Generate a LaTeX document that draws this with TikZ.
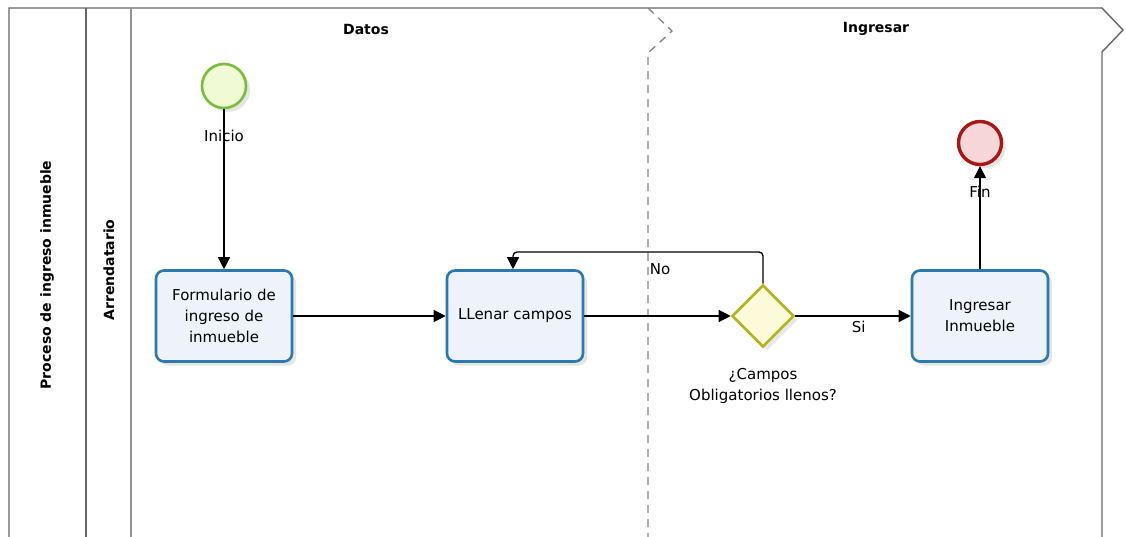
\documentclass[tikz,border=0pt]{standalone}
\usepackage{fontspec}
\setmainfont{DejaVu Sans}
\usetikzlibrary{shapes.geometric,shadows,arrows.meta}
\definecolor{taskborder}{HTML}{2C79AC}
\definecolor{taskfill}{HTML}{EEF2FB}
\definecolor{startborder}{HTML}{78BE3C}
\definecolor{startfill}{HTML}{F0FBD6}
\definecolor{endborder}{HTML}{A81818}
\definecolor{endfill}{HTML}{F6D6D6}
\definecolor{gwborder}{HTML}{B4B422}
\definecolor{gwfill}{HTML}{FBFBDA}
\definecolor{lanegray}{HTML}{666666}
\tikzset{
  x=1pt, y=-1pt,
  task/.style={draw=taskborder, line width=2.6pt, fill=taskfill, rounded corners=8pt,
    minimum width=136pt, minimum height=91pt, align=center, font=\fontsize{15}{21}\selectfont,
    drop shadow={opacity=0.2, shadow xshift=4pt, shadow yshift=-4pt}},
  startev/.style={circle, draw=startborder, line width=2.6pt, fill=startfill, minimum size=44pt,
    inner sep=0pt, drop shadow={opacity=0.2, shadow xshift=4pt, shadow yshift=-4pt}},
  endev/.style={circle, draw=endborder, line width=3.4pt, fill=endfill, minimum size=43pt,
    inner sep=0pt, drop shadow={opacity=0.2, shadow xshift=4pt, shadow yshift=-4pt}},
  gateway/.style={diamond, draw=gwborder, line width=2.6pt, fill=gwfill, minimum width=62pt,
    minimum height=62pt, inner sep=0pt, aspect=1,
    drop shadow={opacity=0.18, shadow xshift=4pt, shadow yshift=-4pt}},
  flow/.style={draw=black, line width=1.3pt, -{Triangle[length=12pt,width=12pt]}},
  lbl/.style={font=\fontsize{15}{21}\selectfont, align=center},
  header/.style={font=\fontsize{14}{16}\selectfont\bfseries},
  laneline/.style={draw=lanegray, line width=1.4pt},
}
\begin{document}
\begin{tikzpicture}
\useasboundingbox[fill=white] (0,0) rectangle (1126,537);
% pool frame
\draw[laneline] (9,537) -- (9,8) -- (1102,8) -- (1123,30) -- (1102,52) -- (1102,537);
\draw[laneline] (86,8) -- (86,537);
\draw[laneline, draw=lanegray!70] (131,8) -- (131,537);
% milestone separator
\draw[draw=lanegray!80, line width=1.3pt, dash pattern=on 8pt off 6pt] (648,8) -- (672,31) -- (648,53) -- (648,537);
% headers
\node[header] (hdatos) at (366,29) {Datos};
\node[header] (hingresar) at (876,29) {Ingresar};
\node[header, rotate=90] (hpool) at (47,275) {Proceso de ingreso inmueble};
\node[header, rotate=90] (hlane) at (109,270) {Arrendatario};
% nodes
\node[startev] (start) at (224,86) {};
\node[lbl] (startlbl) at (224,136) {Inicio};
\node[task] (t1) at (224,316) {Formulario de\\ingreso de\\inmueble};
\node[task] (t2) at (515,316) {LLenar campos};
\node[gateway] (gw) at (763,316) {};
\node[lbl] (gwlbl) at (763,386) {¿Campos\\Obligatorios llenos?};
\node[task] (t3) at (980,316) {Ingresar\\Inmueble};
\node[endev] (fin) at (980,143) {};
\node[lbl] (finlbl) at (980,192) {Fin};
% flows
\draw[flow] (start) -- (t1);
\draw[flow] (t1) -- (t2);
\draw[flow] (t2) -- (gw);
\draw[flow] (gw) -- node[lbl, below, pos=0.55, yshift=-1pt] {Si} (t3);
\draw[flow, rounded corners=4pt] (gw.north) -- (763,252) -- (513,252) -- (t2.north -| 513,0);
\node[lbl] (nolbl) at (660,269) {No};
\draw[flow] (t3) -- (fin);
\end{tikzpicture}
\end{document}
